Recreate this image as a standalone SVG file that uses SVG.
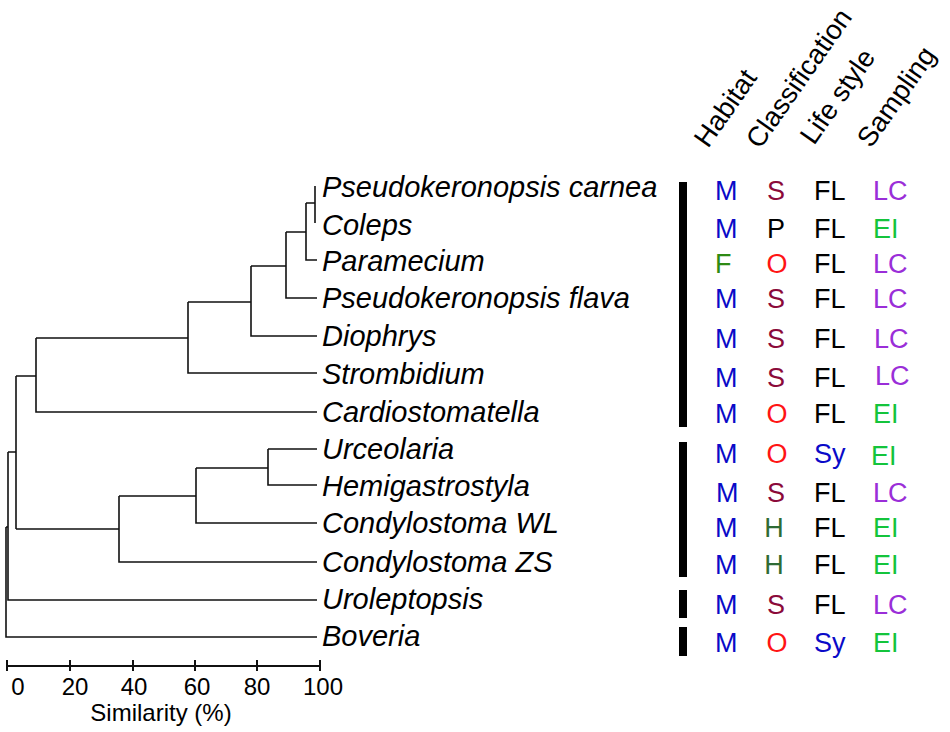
<svg xmlns="http://www.w3.org/2000/svg" width="950" height="732" viewBox="0 0 950 732">
<style>
.tree{fill:none;stroke:#111;stroke-width:1.6}
.axis{fill:none;stroke:#111;stroke-width:2}
.tax{font-family:"Liberation Sans",Arial,sans-serif;font-style:italic;font-size:29px;fill:#000}
.hd{font-family:"Liberation Sans",Arial,sans-serif;font-size:27.5px;fill:#000}
.c{font-family:"Liberation Sans",Arial,sans-serif;font-size:27px}
.num{font-family:"Liberation Sans",Arial,sans-serif;font-size:24px;fill:#000;text-anchor:middle}
.bl{fill:#0a0ac8}.mr{fill:#8b0a3a}.rd{fill:#ff1414}.gf{fill:#2d8a14}.gh{fill:#2f6b34}.bk{fill:#000}.pu{fill:#9a2ed8}.ge{fill:#14c43c}
.mid{text-anchor:middle}
.bar{fill:#000}
</style>
<rect width="950" height="732" fill="#fff"/>
<g id="connectors">
<path class="tree" d="M315,186V223 M306,203H315 M306,203V260H317 M286,232H306 M286,232V298H317 M251,266H286 M251,266V336H317 M188,302H251 M188,302V373H317 M36,338H188 M36,338V412H317 M16,376H36 M268,449H317 M268,449V485H317 M196,468H268 M196,468V523H317 M119,496H196 M119,496V562H317 M16,529H119 M16,376V529 M8,452H16 M8,452V600H317 M6,527H8 M6,527V637H317"/>
</g>
<g id="axis">
<path class="axis" d="M7,666H320 M7,660V671 M70,660V671 M133,660V671 M195,660V671 M257,660V671 M320,660V671"/>
<text class="num" x="18" y="695">0</text>
<text class="num" x="75" y="695">20</text>
<text class="num" x="134" y="695">40</text>
<text class="num" x="197" y="695">60</text>
<text class="num" x="257" y="695">80</text>
<text class="num" x="323" y="695">100</text>
<text class="num" x="161" y="721">Similarity (%)</text>
</g>
<g id="headers">
<text class="hd" transform="translate(708,149) rotate(-55)">Habitat</text>
<text class="hd" transform="translate(760,150) rotate(-55)">Classification</text>
<text class="hd" transform="translate(814,146) rotate(-55)">Life style</text>
<text class="hd" transform="translate(871,149) rotate(-55)">Sampling</text>
</g>
<g id="bars">
<rect class="bar" x="679" y="182" width="8" height="245"/>
<rect class="bar" x="679" y="442" width="8" height="135"/>
<rect class="bar" x="679" y="590" width="8" height="28"/>
<rect class="bar" x="679" y="627" width="8" height="29"/>
</g>
<g id="taxon-pseudokeronopsis-carnea"><text class="tax" x="322" y="197">Pseudokeronopsis carnea</text>
<text class="c bl" x="715" y="200">M</text><text class="c mr mid" x="776" y="200">S</text><text class="c bk" x="814" y="200">FL</text><text class="c pu" x="873" y="200">LC</text></g>
<g id="taxon-coleps"><text class="tax" x="322" y="235">Coleps</text>
<text class="c bl" x="715" y="238">M</text><text class="c bk mid" x="776" y="238">P</text><text class="c bk" x="814" y="238">FL</text><text class="c ge" x="873" y="238">EI</text></g>
<g id="taxon-paramecium"><text class="tax" x="322" y="271">Paramecium</text>
<text class="c gf" x="715" y="273">F</text><text class="c rd mid" x="777" y="273">O</text><text class="c bk" x="814" y="273">FL</text><text class="c pu" x="873" y="273">LC</text></g>
<g id="taxon-pseudokeronopsis-flava"><text class="tax" x="322" y="308">Pseudokeronopsis flava</text>
<text class="c bl" x="715" y="308">M</text><text class="c mr mid" x="776" y="308">S</text><text class="c bk" x="814" y="308">FL</text><text class="c pu" x="873" y="308">LC</text></g>
<g id="taxon-diophrys"><text class="tax" x="322" y="346">Diophrys</text>
<text class="c bl" x="715" y="348">M</text><text class="c mr mid" x="776" y="348">S</text><text class="c bk" x="814" y="348">FL</text><text class="c pu" x="874" y="348">LC</text></g>
<g id="taxon-strombidium"><text class="tax" x="322" y="384">Strombidium</text>
<text class="c bl" x="715" y="387">M</text><text class="c mr mid" x="776" y="387">S</text><text class="c bk" x="814" y="387">FL</text><text class="c pu" x="875" y="385">LC</text></g>
<g id="taxon-cardiostomatella"><text class="tax" x="322" y="422">Cardiostomatella</text>
<text class="c bl" x="715" y="423">M</text><text class="c rd mid" x="777" y="423">O</text><text class="c bk" x="814" y="423">FL</text><text class="c ge" x="873" y="423">EI</text></g>
<g id="taxon-urceolaria"><text class="tax" x="322" y="459">Urceolaria</text>
<text class="c bl" x="715" y="463">M</text><text class="c rd mid" x="777" y="463">O</text><text class="c bl" x="814" y="463">Sy</text><text class="c ge" x="871" y="465">EI</text></g>
<g id="taxon-hemigastrostyla"><text class="tax" x="322" y="496">Hemigastrostyla</text>
<text class="c bl" x="716" y="502">M</text><text class="c mr mid" x="776" y="502">S</text><text class="c bk" x="814" y="502">FL</text><text class="c pu" x="873" y="502">LC</text></g>
<g id="taxon-condylostoma-wl"><text class="tax" x="322" y="533">Condylostoma WL</text>
<text class="c bl" x="715" y="537">M</text><text class="c gh mid" x="774" y="537">H</text><text class="c bk" x="814" y="537">FL</text><text class="c ge" x="873" y="537">EI</text></g>
<g id="taxon-condylostoma-zs"><text class="tax" x="322" y="572">Condylostoma ZS</text>
<text class="c bl" x="715" y="574">M</text><text class="c gh mid" x="774" y="574">H</text><text class="c bk" x="814" y="574">FL</text><text class="c ge" x="873" y="574">EI</text></g>
<g id="taxon-uroleptopsis"><text class="tax" x="322" y="609">Uroleptopsis</text>
<text class="c bl" x="715" y="614">M</text><text class="c mr mid" x="776" y="614">S</text><text class="c bk" x="814" y="614">FL</text><text class="c pu" x="873" y="614">LC</text></g>
<g id="taxon-boveria"><text class="tax" x="322" y="646">Boveria</text>
<text class="c bl" x="715" y="652">M</text><text class="c rd mid" x="777" y="652">O</text><text class="c bl" x="814" y="652">Sy</text><text class="c ge" x="873" y="652">EI</text></g>
</svg>
